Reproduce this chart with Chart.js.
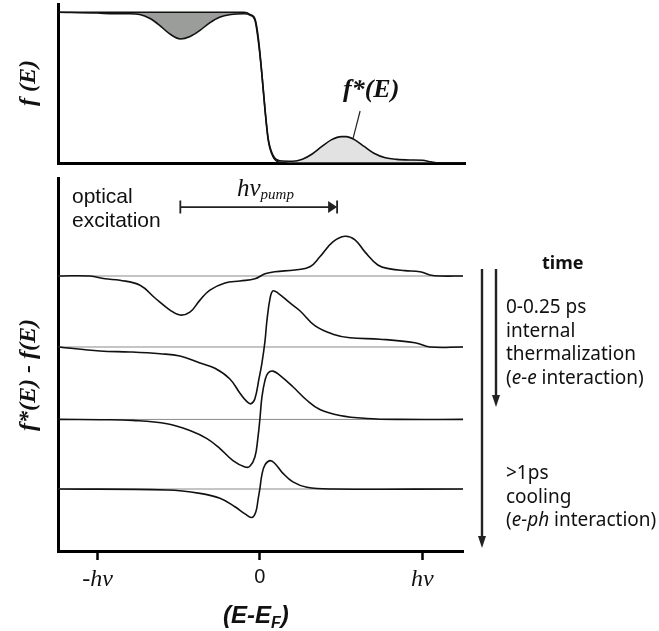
<!DOCTYPE html>
<html>
<head>
<meta charset="utf-8">
<script src="https://cdn.jsdelivr.net/npm/chart.js@4/dist/chart.umd.min.js"></script>
<style>
  body { margin: 0; background: #fff; }
  #wrap { position: relative; width: 659px; height: 631px; }
  canvas { position: absolute; left: 0; top: 0; }
  .t { position: absolute; white-space: nowrap; line-height: 1; color: #111; }
  .serif { font-family: "Liberation Serif", "DejaVu Serif", serif; font-style: italic; font-weight: bold; }
  .rot { transform: translate(-50%, -50%) rotate(-90deg); }
  .side { font-family: "Noto Sans", sans-serif; font-size: 19px; line-height: 23.5px; color: #111; }
</style>
</head>
<body>
<div id="wrap">
  <canvas id="topChart" width="659" height="631"></canvas>
  <canvas id="bottomChart" width="659" height="631"></canvas>

  <div class="t serif rot" style="left:27px; top:83px; font-size:24px;">f (E)</div>
  <div class="t serif rot" style="left:27px; top:375px; font-size:24px;">f*(E) - f(E)</div>
  <div class="t serif" style="left:343px; top:76px; font-size:26px;">f*(E)</div>

  <div class="t" style="left:72px; top:185px; font-family:'Liberation Sans',Arial,sans-serif; font-size:21px;">optical</div>
  <div class="t" style="left:72px; top:209px; font-family:'Liberation Sans',Arial,sans-serif; font-size:21px;">excitation</div>
  <div class="t" style="left:237px; top:175px; font-family:'Liberation Serif',serif; font-style:italic; font-size:25px;">hν<sub style="font-size:15px; vertical-align:-3px;">pump</sub></div>

  <div class="t" style="left:542px; top:253px; font-family:'Noto Sans',sans-serif; font-weight:bold; font-size:18px;">time</div>
  <div class="t side" style="left:506px; top:295px;">0-0.25 ps<br>internal<br>thermalization<br>(<i>e-e</i> interaction)</div>
  <div class="t side" style="left:506px; top:461px;">&gt;1ps<br>cooling<br>(<i>e-ph</i> interaction)</div>

  <div class="t" style="left:223px; top:603px; font-family:'Liberation Sans',Arial,sans-serif; font-weight:bold; font-style:italic; font-size:24px;">(E-E<sub style="font-size:16px; vertical-align:-5px;">F</sub>)</div>
</div>

<script>
// energies in units of h*nu (E - EF)
// top panel: Fermi distribution f(E) and excited distribution f*(E)
const topE     = [-1.243, -1.0, -0.9, -0.8, -0.74, -0.68, -0.62, -0.56, -0.49, -0.43, -0.37, -0.31, -0.25, -0.18, -0.1, -0.06, -0.03, -0.01, 0.01, 0.03, 0.05, 0.08, 0.12, 0.2, 0.26, 0.32, 0.38, 0.44, 0.5, 0.53, 0.58, 0.64, 0.7, 0.77, 0.84, 0.92, 1.0, 1.05, 1.1, 1.26];
const fermiF   = [1, 1, 1, 1, 1, 1, 1, 1, 1, 1, 1, 1, 1, 1, 1, 0.985, 0.95, 0.82, 0.6, 0.35, 0.15, 0.04, 0.005, 0, 0, 0, 0, 0, 0, 0, 0, 0, 0, 0, 0, 0, 0, 0, 0, 0];
const excitedF = [1, 0.995, 0.99, 0.99, 0.985, 0.96, 0.915, 0.86, 0.823, 0.84, 0.88, 0.93, 0.967, 0.985, 0.99, 0.98, 0.94, 0.8, 0.6, 0.36, 0.16, 0.05, 0.015, 0.012, 0.025, 0.06, 0.11, 0.155, 0.175, 0.175, 0.155, 0.11, 0.065, 0.035, 0.024, 0.02, 0.018, 0.008, 0, 0];

// bottom panel: f*(E) - f(E) at successive times, each shifted by its offset
const offsets = [3, 2, 0.98, 0];
const excE = [-1.243, -1.046, -0.954, -0.862, -0.738, -0.646, -0.554, -0.492, -0.431, -0.369, -0.308, -0.215, -0.123, -0.031, 0.031, 0.092, 0.215, 0.308, 0.369, 0.449, 0.523, 0.585, 0.646, 0.726, 0.8, 0.892, 0.985, 1.046, 1.108, 1.25];
const excD = [0, 0, -0.04, -0.06, -0.13, -0.31, -0.48, -0.55, -0.51, -0.34, -0.2, -0.1, -0.07, -0.04, 0.03, 0.06, 0.085, 0.13, 0.27, 0.48, 0.56, 0.51, 0.34, 0.155, 0.1, 0.075, 0.06, 0.015, 0, 0];
const thermE = [-1.243, -0.985, -0.8, -0.615, -0.492, -0.369, -0.277, -0.185, -0.123, -0.08, -0.055, -0.031, -0.006, 0.012, 0.031, 0.043, 0.062, 0.08, 0.111, 0.185, 0.246, 0.338, 0.449, 0.554, 0.738, 0.954, 1.046, 1.25];
const thermD = [0, -0.056, -0.07, -0.095, -0.127, -0.225, -0.3, -0.45, -0.65, -0.77, -0.8, -0.73, -0.45, -0.23, 0.08, 0.37, 0.68, 0.79, 0.76, 0.62, 0.51, 0.3, 0.18, 0.13, 0.11, 0.06, 0, 0];
const coolE = [-1.243, -0.985, -0.782, -0.572, -0.431, -0.326, -0.246, -0.166, -0.092, -0.062, -0.031, -0.012, 0, 0.012, 0.031, 0.049, 0.08, 0.123, 0.203, 0.289, 0.369, 0.492, 0.658, 0.862, 1.25];
const coolD = [0, -0.004, -0.014, -0.06, -0.155, -0.27, -0.41, -0.58, -0.67, -0.66, -0.53, -0.25, 0.01, 0.31, 0.55, 0.65, 0.68, 0.62, 0.46, 0.27, 0.14, 0.056, 0.014, 0, 0];
const lateE = [-1.243, -0.572, -0.369, -0.246, -0.154, -0.092, -0.049, -0.025, -0.012, 0, 0.012, 0.031, 0.062, 0.092, 0.142, 0.203, 0.289, 0.449, 1.25];
const lateD = [0, -0.014, -0.061, -0.13, -0.25, -0.35, -0.4, -0.32, -0.155, 0.01, 0.2, 0.34, 0.4, 0.36, 0.22, 0.1, 0.024, 0, 0];

const tickVals = [-1, 0, 1];
const tickText = ['-hν', '0', 'hν'];
const pumpFrom = -0.49, pumpTo = 0.475, pumpLevel = 3.97;

function pts(xs, ys, off) {
  return xs.map((x, i) => ({ x: x, y: ys[i] + (off || 0) }));
}

const bare = {
  display: true,
  ticks: { display: false },
  grid: { display: false, drawTicks: false },
  border: { display: true, width: 3, color: '#000' }
};

// leader line from the f*(E) label down to the bump
const leaderPlugin = {
  id: 'leader',
  afterDatasetsDraw(chart) {
    const c = chart.ctx, xs = chart.scales.x, ys = chart.scales.y;
    c.save();
    c.strokeStyle = '#222';
    c.lineWidth = 1.2;
    c.beginPath();
    c.moveTo(xs.getPixelForValue(0.615), ys.getPixelForValue(0.345));
    c.lineTo(xs.getPixelForValue(0.572), ys.getPixelForValue(0.165));
    c.stroke();
    c.restore();
  }
};

new Chart('topChart', {
  type: 'line',
  data: {
    datasets: [
      { data: pts(topE, fermiF), borderColor: '#111', borderWidth: 1.6, pointRadius: 0, fill: false },
      { data: pts(topE, excitedF), borderColor: '#111', borderWidth: 1.6, pointRadius: 0,
        fill: { target: 0, above: '#e2e2e2', below: '#9b9d9b' } }
    ]
  },
  options: {
    responsive: false,
    animation: false,
    layout: { padding: { left: 58, top: 4, right: 194, bottom: 468 } },
    plugins: { legend: { display: false }, tooltip: { enabled: false } },
    elements: { line: { cubicInterpolationMode: 'monotone' } },
    scales: {
      x: Object.assign({ type: 'linear', min: -1.243, max: 1.26 }, bare),
      y: Object.assign({ type: 'linear', min: 0, max: 1.055 }, bare)
    }
  },
  plugins: [leaderPlugin]
});

// pump bracket and the time arrows on the right
const notesPlugin = {
  id: 'notes',
  afterDraw(chart) {
    const c = chart.ctx, xs = chart.scales.x, ys = chart.scales.y;
    const x1 = xs.getPixelForValue(pumpFrom), x2 = xs.getPixelForValue(pumpTo);
    const y = ys.getPixelForValue(pumpLevel);
    c.save();
    c.strokeStyle = '#222';
    c.fillStyle = '#222';
    c.lineWidth = 1.8;
    c.beginPath();
    c.moveTo(x1, y); c.lineTo(x2 - 6, y);
    c.moveTo(x1, y - 6.5); c.lineTo(x1, y + 6.5);
    c.moveTo(x2, y - 6.5); c.lineTo(x2, y + 6.5);
    c.stroke();
    c.beginPath();
    c.moveTo(x2, y); c.lineTo(x2 - 9, y - 6); c.lineTo(x2 - 9, y + 6); c.closePath();
    c.fill();

    function arrow(x, yTop, yTip) {
      c.lineWidth = 2.4;
      c.beginPath();
      c.moveTo(x, yTop); c.lineTo(x, yTip - 8);
      c.stroke();
      c.beginPath();
      c.moveTo(x, yTip); c.lineTo(x - 4, yTip - 12); c.lineTo(x + 4, yTip - 12); c.closePath();
      c.fill();
    }
    arrow(482, 269, 548);
    arrow(496, 269, 407);
    c.restore();
  }
};

const curveStyle = { borderColor: '#111', borderWidth: 1.6, pointRadius: 0, fill: false, order: 1, tension: 0.4 };
const baseStyle = { borderColor: '#8a8a8a', borderWidth: 1, pointRadius: 0, fill: false, order: 2, tension: 0 };

const bottomSets = [];
offsets.forEach(off => {
  bottomSets.push(Object.assign({ data: [{ x: -1.243, y: off }, { x: 1.25, y: off }] }, baseStyle));
});
bottomSets.push(Object.assign({ data: pts(excE, excD, offsets[0]) }, curveStyle));
bottomSets.push(Object.assign({ data: pts(thermE, thermD, offsets[1]) }, curveStyle));
bottomSets.push(Object.assign({ data: pts(coolE, coolD, offsets[2]) }, curveStyle));
bottomSets.push(Object.assign({ data: pts(lateE, lateD, offsets[3]) }, curveStyle));

new Chart('bottomChart', {
  type: 'line',
  data: { datasets: bottomSets },
  options: {
    responsive: false,
    animation: false,
    layout: { padding: { left: 58, top: 178, right: 196, bottom: 0 } },
    plugins: { legend: { display: false }, tooltip: { enabled: false } },
    scales: {
      x: {
        type: 'linear', min: -1.243, max: 1.25,
        afterBuildTicks: (axis) => { axis.ticks = tickVals.map(v => ({ value: v })); },
        afterFit: (axis) => { axis.height = 80; },
        ticks: {
          color: '#111',
          padding: 5,
          maxRotation: 0,
          callback: (v) => tickText[tickVals.indexOf(v)],
          font: (ctx) => (ctx.tick && ctx.tick.value === 0)
            ? { family: 'Liberation Sans', size: 20 }
            : { family: 'Liberation Serif', style: 'italic', size: 24 }
        },
        grid: { display: true, drawOnChartArea: false, drawTicks: true, tickLength: 9, tickWidth: 2.5, tickColor: '#000' },
        border: { display: true, width: 3, color: '#000' }
      },
      y: Object.assign({ type: 'linear', min: -0.873, max: 4.38 }, bare)
    }
  },
  plugins: [notesPlugin]
});
</script>
</body>
</html>
